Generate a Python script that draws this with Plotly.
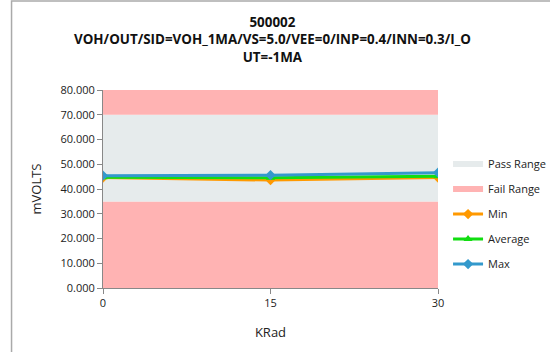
import plotly.graph_objects as go

krad = [0, 15, 30]
min_vals = [44.6, 43.6, 44.6]
avg_vals = [44.7, 44.5, 45.2]
max_vals = [45.4, 45.6, 46.6]
fail_low = [35, 35, 35]
pass_band = [35, 35, 35]
fail_high = [10, 10, 10]
y_ticks = [0, 10, 20, 30, 40, 50, 60, 70, 80]
x_ticks = [0, 15, 30]

FONT = "Open Sans"
PASS_C = "#E6EBEC"
FAIL_C = "#FFB3B3"

fig = go.Figure()
fig.add_trace(go.Scatter(x=krad, y=fail_low, stackgroup="bands", mode="none",
                         fillcolor=FAIL_C, name="Fail Range", legendgroup="fail",
                         showlegend=False, hoverinfo="skip"))
fig.add_trace(go.Scatter(x=krad, y=pass_band, stackgroup="bands", mode="none",
                         fillcolor=PASS_C, name="Pass Range", legendgroup="pass",
                         legendrank=1, hoverinfo="skip"))
fig.add_trace(go.Scatter(x=krad, y=fail_high, stackgroup="bands", mode="none",
                         fillcolor=FAIL_C, name="Fail Range", legendgroup="fail",
                         legendrank=2, hoverinfo="skip"))
fig.add_trace(go.Scatter(x=krad, y=min_vals, mode="lines+markers", name="Min", legendrank=3,
                         legendgroup="min",
                         line=dict(color="#FF9900", width=3),
                         marker=dict(symbol="diamond", size=8, color="#FF9900")))
fig.add_trace(go.Scatter(x=krad, y=avg_vals, mode="lines+markers", name="Average", legendrank=4,
                         legendgroup="avg",
                         line=dict(color="#11DD11", width=3),
                         marker=dict(symbol="triangle-up", size=8, color="#11DD11")))
fig.add_trace(go.Scatter(x=krad, y=max_vals, mode="lines+markers", name="Max", legendrank=5,
                         legendgroup="max",
                         line=dict(color="#3399CC", width=3),
                         marker=dict(symbol="diamond", size=8, color="#3399CC")))

fig.update_layout(
    width=550, height=352,
    margin=dict(l=103, r=112, t=90, b=64, autoexpand=False),
    paper_bgcolor="white", plot_bgcolor="white",
    font=dict(family=FONT, size=11, color="#222"),
    xaxis=dict(range=[0, 30], tickvals=x_ticks, ticks="outside", ticklen=5, tickcolor="#888",
               showline=True, linecolor="#888", showgrid=False, zeroline=False, automargin=False,
               title=dict(text="KRad", font=dict(size=13), standoff=18)),
    yaxis=dict(range=[0, 80], tickvals=y_ticks, tickformat=".3f", ticks="outside", ticklen=5,
               tickcolor="#888", showline=True, linecolor="#888", showgrid=False, zeroline=False,
               automargin=False,
               title=dict(text="mVOLTS", font=dict(size=13), standoff=15)),
    legend=dict(x=1.03, y=0.699, xanchor="left", yanchor="top", tracegroupgap=6,
                font=dict(size=11), itemwidth=30, traceorder="grouped"),
    showlegend=True,
)
fig.add_annotation(text="<b>500002<br>VOH/OUT/SID=VOH_1MA/VS=5.0/VEE=0/INP=0.4/INN=0.3/I_O<br>UT=-1MA</b>",
                   xref="paper", yref="paper", x=0.505, y=1.399, xanchor="center", yanchor="top",
                   showarrow=False, font=dict(family=FONT, size=13.4, color="#111"))
fig.add_shape(type="rect", xref="paper", yref="paper",
              x0=-0.273, x1=1.6, y0=-0.5, y1=1.45,
              line=dict(color="#AAAAAA", width=1.5), fillcolor="rgba(0,0,0,0)", layer="below")

fig.write_html("out.html", config={"displayModeBar": False},
               post_script="document.body.style.margin='0';")
